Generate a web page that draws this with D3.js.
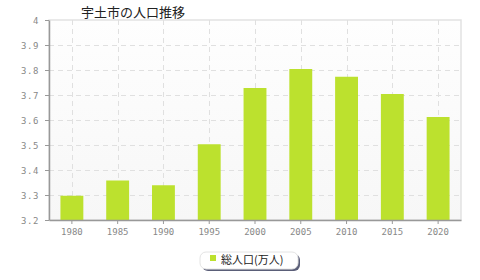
<!DOCTYPE html>
<html>
<head>
<meta charset="utf-8">
<script src="https://cdn.jsdelivr.net/npm/d3@7"></script>
<style>
body { margin: 0; background: #fff; }
text { font-family: "DejaVu Sans Mono", "Liberation Mono", monospace; }
</style>
</head>
<body>
<div id="chart"></div>
<script>
var title = "宇土市の人口推移";
var years = ["1980", "1985", "1990", "1995", "2000", "2005", "2010", "2015", "2020"];
var population = [3.297, 3.358, 3.339, 3.503, 3.728, 3.804, 3.773, 3.704, 3.612];
var yTicks = [3.2, 3.3, 3.4, 3.5, 3.6, 3.7, 3.8, 3.9, 4];
var seriesName = "総人口(万人)";

var W = 480, H = 280;
var mLeft = 49, mRight = 461, mTop = 20, mBottom = 220;

var svg = d3.select("#chart")
	.append("svg")
	.attr("width", W)
	.attr("height", H);

var defs = svg.append("defs");
var grad = defs.append("linearGradient")
	.attr("id", "bg")
	.attr("x1", 0).attr("y1", 0).attr("x2", 0).attr("y2", 1);
grad.append("stop").attr("offset", "0%").attr("stop-color", "#fefefe");
grad.append("stop").attr("offset", "100%").attr("stop-color", "#f7f7f7");

var x = d3.scaleBand()
	.domain(years)
	.range([mLeft, mRight])
	.paddingInner(0.5)
	.paddingOuter(0.25);

var y = d3.scaleLinear()
	.domain([3.2, 4])
	.range([mBottom, mTop]);

// plot background + border
svg.append("rect")
	.attr("x", mLeft).attr("y", mTop)
	.attr("width", mRight - mLeft).attr("height", mBottom - mTop)
	.attr("fill", "url(#bg)")
	.attr("stroke", "#e2e2e2")
	.attr("stroke-width", 1.5);

// grid
svg.append("g")
	.selectAll("line")
	.data(yTicks.slice(1, -1))
	.enter()
	.append("line")
	.attr("x1", mLeft).attr("x2", mRight)
	.attr("y1", function(d) { return Math.round(y(d)) + 0.5; })
	.attr("y2", function(d) { return Math.round(y(d)) + 0.5; })
	.attr("stroke", "#e0e0e0")
	.attr("stroke-dasharray", "5,4");

svg.append("g")
	.selectAll("line")
	.data(years)
	.enter()
	.append("line")
	.attr("x1", function(d) { return Math.round(x(d) + x.bandwidth() / 2) + 0.5; })
	.attr("x2", function(d) { return Math.round(x(d) + x.bandwidth() / 2) + 0.5; })
	.attr("y1", mTop).attr("y2", mBottom)
	.attr("stroke", "#e0e0e0")
	.attr("stroke-dasharray", "5,4");

// bars
svg.append("g")
	.selectAll("rect")
	.data(years)
	.enter()
	.append("rect")
	.attr("x", function(d) { return x(d); })
	.attr("y", function(d, i) { return y(population[i]); })
	.attr("width", x.bandwidth())
	.attr("height", function(d, i) { return mBottom - y(population[i]); })
	.attr("fill", "#bce12e");

// axes
var yAxis = svg.append("g")
	.attr("transform", "translate(" + mLeft + ",0)")
	.call(d3.axisLeft(y)
		.tickValues(yTicks)
		.tickSize(4)
		.tickSizeOuter(0)
		.tickFormat(function(d) { return d === 4 ? "4" : d3.format(".1f")(d); }));

var xAxis = svg.append("g")
	.attr("transform", "translate(0," + mBottom + ")")
	.call(d3.axisBottom(x)
		.tickSize(4)
		.tickSizeOuter(0));

[yAxis, xAxis].forEach(function(a) {
	a.select(".domain").attr("stroke", "#999").attr("stroke-width", 1.5);
	a.selectAll(".tick line").attr("stroke", "#999");
	a.selectAll("text")
		.attr("fill", "#888")
		.style("font-size", "9px")
		.style("font-family", "'DejaVu Sans Mono', monospace");
});
yAxis.selectAll("text").attr("x", -10).attr("dy", "0.35em").style("letter-spacing", "0.6px");
xAxis.selectAll("text").attr("y", 9).attr("dy", "0.71em");

// title
svg.append("text")
	.attr("x", 81)
	.attr("y", 17)
	.attr("fill", "#222")
	.style("font-family", "'Noto Sans CJK JP', sans-serif")
	.style("font-size", "13px")
	.text(title);

// legend
var lg = svg.append("g");
lg.append("rect")
	.attr("x", 202).attr("y", 254)
	.attr("width", 98).attr("height", 17)
	.attr("rx", 6)
	.attr("fill", "#5a5e78");
lg.append("rect")
	.attr("x", 200).attr("y", 252)
	.attr("width", 98).attr("height", 17)
	.attr("rx", 6)
	.attr("fill", "#fff")
	.attr("stroke", "#e4e4e4");
lg.append("rect")
	.attr("x", 210).attr("y", 255)
	.attr("width", 6).attr("height", 6)
	.attr("fill", "#bce12e");
lg.append("text")
	.attr("x", 221)
	.attr("y", 264)
	.attr("fill", "#222")
	.style("font-family", "'Noto Sans CJK JP', sans-serif")
	.style("font-size", "11px")
	.text(seriesName);
</script>
</body>
</html>
